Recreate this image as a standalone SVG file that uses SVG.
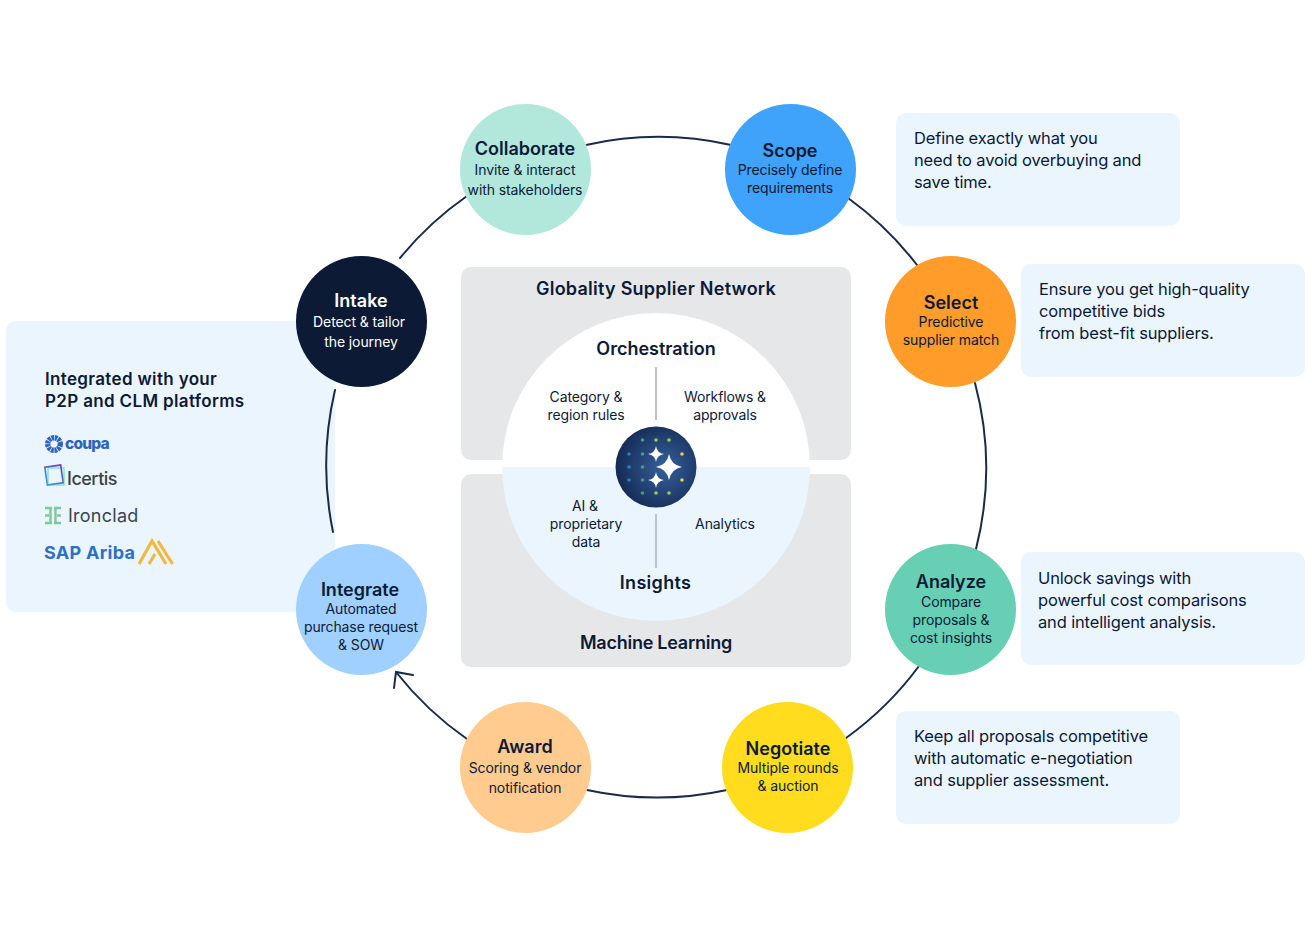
<svg xmlns="http://www.w3.org/2000/svg" width="1312" height="934" viewBox="0 0 1312 934">
<style>
text{font-family:Inter,"Liberation Sans",sans-serif;fill:#0c1a36;text-anchor:middle}
.t{font-size:18px;font-weight:600}
.s{font-size:14px;letter-spacing:-.1px}
.b{font-size:16.5px;text-anchor:start;letter-spacing:-.15px}
.h{font-size:18px;font-weight:600}
.i{font-size:17px;font-weight:600;text-anchor:start;letter-spacing:.34px}
.w{fill:#fff}
.box{fill:#eaf5fe}
.panel{fill:#e6e7e9}
.ring{fill:none;stroke:#1a2a48;stroke-width:2;stroke-linecap:round}
.div{stroke:#bcc3cc;stroke-width:2}
</style>
<defs>
<radialGradient id="g" cx=".6" cy=".5" r=".6"><stop offset="0" stop-color="#36609c"/><stop offset="1" stop-color="#142a54"/></radialGradient>
<linearGradient id="ic" x1="1" y1="0" x2="0" y2="1"><stop offset="0" stop-color="#6a3fb0"/><stop offset="1" stop-color="#3f9fd8"/></linearGradient>
</defs>
<rect width="1312" height="934" fill="#fff"/>
<g id="boxes">
<rect class="box" x="6" y="321" width="329" height="291" rx="10"/>
<rect class="box" x="896" y="113" width="284" height="113" rx="10"/>
<rect class="box" x="1021" y="264" width="284" height="113" rx="10"/>
<rect class="box" x="1021" y="552" width="284" height="113" rx="10"/>
<rect class="box" x="896" y="711" width="284" height="113" rx="10"/>
</g>
<g id="connectors">
<path class="ring" d="M586 145A330 330 0 0 1 731 145"/>
<path class="ring" d="M848 198A330 330 0 0 1 917 265"/>
<path class="ring" d="M975 383A330 330 0 0 1 976 549"/>
<path class="ring" d="M919 666A330 330 0 0 1 846 738"/>
<path class="ring" d="M727 790A330 330 0 0 1 587 790"/>
<path class="ring" d="M467 739A330 330 0 0 1 396 672M394 688L396 672L413 675"/>
<path class="ring" d="M333 532A330 330 0 0 1 335 390"/>
<path class="ring" d="M400 258A330 330 0 0 1 467 196"/>
</g>
<g id="core">
<rect class="panel" x="461" y="267" width="390" height="193" rx="10"/>
<rect class="panel" x="461" y="474" width="390" height="193" rx="10"/>
<path fill="#fff" d="M502 467A154 154 0 0 1 810 467Z"/>
<path fill="#eaf5fe" d="M502 467A154 154 0 0 0 810 467Z"/>
<line class="div" x1="656" y1="367" x2="656" y2="420"/>
<line class="div" x1="656" y1="514" x2="656" y2="568"/>
<text class="h" x="656" y="295" style="letter-spacing:.25px">Globality Supplier Network</text>
<text class="h" x="656" y="355">Orchestration</text>
<text class="s" x="586" y="402">Category &amp;</text>
<text class="s" x="586" y="420">region rules</text>
<text class="s" x="725" y="402">Workflows &amp;</text>
<text class="s" x="725" y="420">approvals</text>
<text class="s" x="585" y="511">AI &amp;</text>
<text class="s" x="586" y="529">proprietary</text>
<text class="s" x="586" y="547">data</text>
<text class="s" x="725" y="529">Analytics</text>
<text class="h" x="655.5" y="589" style="letter-spacing:.3px">Insights</text>
<text class="h" x="656" y="649" style="letter-spacing:-.25px">Machine Learning</text>
</g>
<g id="hub">
<circle cx="656" cy="467" r="40.5" fill="url(#g)"/>
<g fill="#4f9a86">
<circle cx="642.5" cy="440" r="1.8"/><circle cx="642.5" cy="454" r="1.8"/><circle cx="642.5" cy="467" r="1.8"/><circle cx="642.5" cy="480" r="1.8"/><circle cx="642.5" cy="493" r="1.8"/>
</g>
<g fill="#2f7fc1"><circle cx="629" cy="454" r="1.8"/><circle cx="629" cy="467" r="1.8"/><circle cx="629" cy="480" r="1.8"/></g>
<g fill="#9ccb5c"><circle cx="656" cy="440" r="1.8"/><circle cx="669" cy="440" r="1.8"/><circle cx="656" cy="493" r="1.8"/><circle cx="669" cy="493" r="1.8"/></g>
<g fill="#e0d24a"><circle cx="682" cy="454" r="1.8"/><circle cx="682" cy="480" r="1.8"/></g>
<g fill="#fff">
<path d="M669 454Q671 465 682 467Q671 469 669 480Q667 469 656 467Q667 465 669 454Z"/>
<path d="M656 446Q657 453 664 454Q657 455 656 462Q655 455 648 454Q655 453 656 446Z"/>
<path d="M656 472Q657 479 664 480Q657 481 656 488Q655 481 648 480Q655 479 656 472Z"/>
</g>
</g>
<g id="collaborate"><circle cx="525.5" cy="169.5" r="65.5" fill="#b2e7dc"/><text class="t" x="525" y="155">Collaborate</text><text class="s" x="525" y="175">Invite &amp; interact</text><text class="s" x="525" y="195">with stakeholders</text></g>
<g id="scope"><circle cx="790.5" cy="169.5" r="65.5" fill="#3fa2fb"/><text class="t" x="790" y="157">Scope</text><text class="s" x="790" y="175">Precisely define</text><text class="s" x="790" y="193">requirements</text></g>
<g id="select"><circle cx="950.5" cy="321.5" r="65.5" fill="#ff9c2a"/><text class="t" x="951" y="309">Select</text><text class="s" x="951" y="327">Predictive</text><text class="s" x="951" y="345">supplier match</text></g>
<g id="analyze"><circle cx="950.5" cy="609.5" r="65.5" fill="#66cfb4"/><text class="t" x="951" y="588">Analyze</text><text class="s" x="951" y="607">Compare</text><text class="s" x="951" y="625">proposals &amp;</text><text class="s" x="951" y="643">cost insights</text></g>
<g id="negotiate"><circle cx="787.5" cy="767.5" r="65.5" fill="#ffdc1e"/><text class="t" x="788" y="755">Negotiate</text><text class="s" x="788" y="773">Multiple rounds</text><text class="s" x="788" y="791">&amp; auction</text></g>
<g id="award"><circle cx="525.5" cy="767.5" r="65.5" fill="#ffcb8f"/><text class="t" x="525" y="753">Award</text><text class="s" x="525" y="773">Scoring &amp; vendor</text><text class="s" x="525" y="793">notification</text></g>
<g id="integrate"><circle cx="361.5" cy="609.5" r="65.5" fill="#9fd0ff"/><text class="t" x="360" y="596">Integrate</text><text class="s" x="361" y="614">Automated</text><text class="s" x="361" y="632">purchase request</text><text class="s" x="361" y="650">&amp; SOW</text></g>
<g id="intake"><circle cx="361.5" cy="321.5" r="65.5" fill="#0c1a36"/><text class="t w" x="361" y="307">Intake</text><text class="s w" x="359" y="327">Detect &amp; tailor</text><text class="s w" x="361" y="347">the journey</text></g>
<g id="notes">
<text class="b" x="914" y="144">Define exactly what you</text><text class="b" x="914" y="166">need to avoid overbuying and</text><text class="b" x="914" y="188">save time.</text>
<text class="b" x="1039" y="295">Ensure you get high-quality</text><text class="b" x="1039" y="317">competitive bids</text><text class="b" x="1039" y="339">from best-fit suppliers.</text>
<text class="b" x="1038" y="584">Unlock savings with</text><text class="b" x="1038" y="606">powerful cost comparisons</text><text class="b" x="1038" y="628">and intelligent analysis.</text>
<text class="b" x="914" y="742">Keep all proposals competitive</text><text class="b" x="914" y="764">with automatic e-negotiation</text><text class="b" x="914" y="786">and supplier assessment.</text>
</g>
<g id="integrations">
<text class="i" x="45" y="385">Integrated with your</text>
<text class="i" x="45" y="407">P2P and CLM platforms</text>
<circle cx="54" cy="444" r="6.3" fill="none" stroke="#2f63bd" stroke-width="5.4" stroke-dasharray="2.6 .7"/>
<text x="65" y="449" style="text-anchor:start;font-size:15.5px;font-weight:800;fill:#2f63bd;letter-spacing:-.8px">coupa</text>
<rect x="48" y="468" width="16" height="17" fill="none" stroke="#7fe6d6" stroke-width="1.5"/>
<rect x="46" y="466" width="16" height="18" fill="none" stroke="url(#ic)" stroke-width="1.6" transform="rotate(-8 54 475)"/>
<text x="67" y="485" style="text-anchor:start;font-size:18px;font-weight:500;fill:#3d4145;letter-spacing:-.5px">Icertis</text>
<g stroke="#7ccb96" stroke-width="2.4" fill="none"><path d="M45 508H52M45 523H52M50.5 508V523M45 515.5H49M54 508H61M54 523H61M55.5 508V523M57 515.5H61"/></g>
<text x="68" y="522" style="text-anchor:start;font-size:18px;fill:#3b4550;letter-spacing:.25px">Ironclad</text>
<text x="44" y="559" style="text-anchor:start;font-size:18px;font-weight:700;fill:#2f6fc4;letter-spacing:.3px">SAP Ariba</text>
<path d="M139 564L152 541L166 564M158 541L172.500 564M149 564L155 554" fill="none" stroke="#f3b93f" stroke-width="3.200"/>
</g>
</svg>
